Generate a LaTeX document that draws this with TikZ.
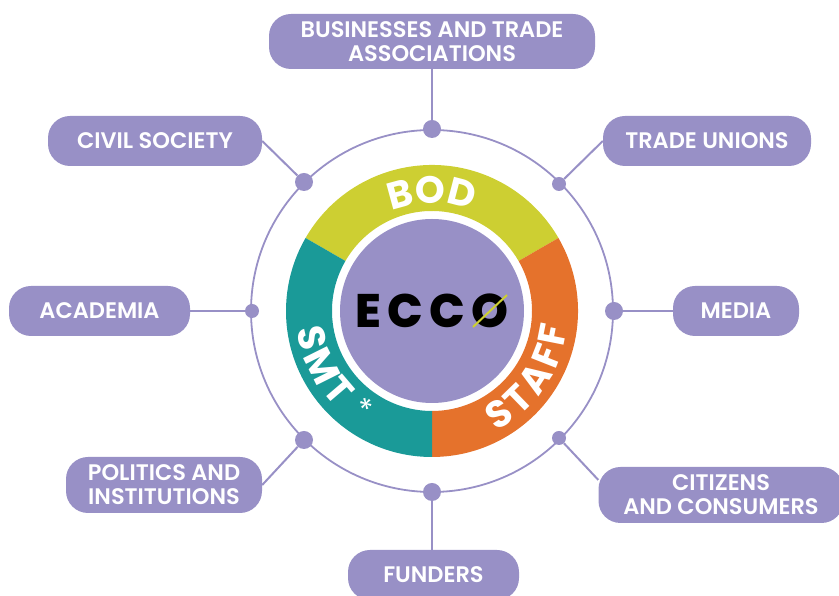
\documentclass[tikz,border=0pt]{standalone}
\usepackage{fontspec}
\usepackage{tikz}
\usetikzlibrary{decorations.text}
\setmainfont{Poppins}[BoldFont={Poppins SemiBold}]
\newfontfamily\logofont[LetterSpace=14]{Poppins ExtraBold}
\newfontfamily\ringfam{Poppins Bold}
\definecolor{eccopurple}{HTML}{9890C6}
\definecolor{eccoyellow}{HTML}{CDCF32}
\definecolor{eccoteal}{HTML}{1A9A98}
\definecolor{eccoorange}{HTML}{E5722C}
\newcommand{\pillfont}{\fontsize{22.5}{24}\selectfont\bfseries}
\newcommand{\ringfont}{\ringfam\fontsize{38}{42}\selectfont}

\begin{document}
\begin{tikzpicture}[x=1pt,y=1pt,join=round,
    pill/.style={fill=eccopurple,text=white,rounded corners=22pt,align=center,inner sep=0pt,font=\pillfont},
    hub/.style={circle,fill=eccopurple,inner sep=0pt},
    spoke/.style={draw=eccopurple,line width=2pt},
    ringletter/.style={text=white,inner sep=0pt,font=\ringfont},
    ringtext/.style={decorate,decoration={text along path,text align=center,text color=white,text={|\ringfont|#1}}}] % Stakeholder ring
    \useasboundingbox (0,0) rectangle (839,596);
    % ring
    \draw[eccopurple,line width=1.8pt] (432,285) circle (181);
    \begin{scope}[shift={(432,285)}]
        \fill[eccoyellow] (150:146) arc (150:30:146) -- (30:100) arc (30:150:100) -- cycle;
        \fill[eccoorange] (30:146) arc (30:-90:146) -- (-90:100) arc (-90:30:100) -- cycle;
        \fill[eccoteal] (-90:146) arc (-90:-210:146) -- (-210:100) arc (-210:-90:100) -- cycle;
        \fill[eccopurple] (0,0) circle (92);
        \path[ringtext=BOD] (140:108) arc (140:40:108);
        \foreach \c/\a [count=\i] in {S/-57,T/-45.8,A/-33.4,F/-21.5,F/-11.2}
            \node[ringletter,rotate=\a+90] (staff\i) at (\a:123) {\c};
        \foreach \c/\a [count=\i] in {S/192.5,M/206.5,T/220.5}
            \node[ringletter,rotate=\a+90] (smt\i) at (\a:123) {\c};
        \node[text=white,font=\fontsize{30}{30}\selectfont,rotate=-45] (star) at (-70,-97) {*};
        \node[font=\logofont\fontsize{47}{47}\selectfont] (logo) at (0,0) {ECCO};
        \draw[eccoyellow,line width=2pt] (41,-16) -- (75,16);
    \end{scope}
    % hubs
    \node[hub,minimum size=18pt] (htop) at (432,467) {};
    \node[hub,minimum size=18pt] (hul) at (304,414) {};
    \node[hub,minimum size=14pt] (hur) at (559,412) {};
    \node[hub,minimum size=18pt] (hr) at (614,285) {};
    \node[hub,minimum size=14pt] (hl) at (252,285) {};
    \node[hub,minimum size=18pt] (hll) at (304,156) {};
    \node[hub,minimum size=14pt] (hlr) at (559,158) {};
    \node[hub,minimum size=18pt] (hbot) at (432,104) {};
    % labels
    \node[pill,minimum width=326pt,minimum height=55pt] (business) at (432,554.5) {BUSINESSES AND TRADE\\ASSOCIATIONS};
    \node[pill,minimum width=214pt,minimum height=50pt] (civil) at (155,455) {CIVIL SOCIETY};
    \node[pill,minimum width=208pt,minimum height=50pt] (unions) at (707,455) {TRADE UNIONS};
    \node[pill,minimum width=181pt,minimum height=50pt] (academia) at (99.5,285) {ACADEMIA};
    \node[pill,minimum width=126pt,minimum height=50pt] (media) at (736,285) {MEDIA};
    \node[pill,minimum width=196pt,minimum height=56pt] (politics) at (164,111) {POLITICS AND\\INSTITUTIONS};
    \node[pill,minimum width=245pt,minimum height=56pt] (citizens) at (721,101) {CITIZENS\\AND CONSUMERS};
    \node[pill,minimum width=171pt,minimum height=50pt] (funders) at (433.5,21) {FUNDERS};
    % spokes
    \draw[spoke] (business) -- (htop);
    \draw[spoke] (civil.east) -- (hul);
    \draw[spoke] (unions.west) -- (hur);
    \draw[spoke] (academia.east) -- (hl);
    \draw[spoke] (media.west) -- (hr);
    \draw[spoke] (politics.east) -- (hll);
    \draw[spoke] (citizens.173) -- (hlr);
    \draw[spoke] (hbot) -- (hbot |- funders.north);
\end{tikzpicture}
\end{document}
